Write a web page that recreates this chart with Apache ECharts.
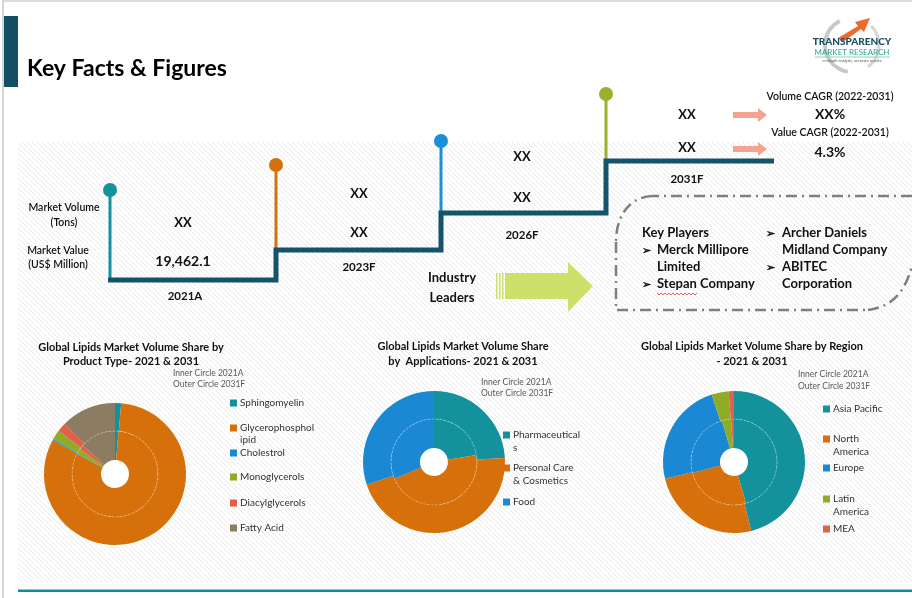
<!DOCTYPE html>
<html><head><meta charset="utf-8">
<script src="https://cdn.jsdelivr.net/npm/echarts@6/dist/echarts.min.js"></script>
<style>html,body{margin:0;padding:0;background:#fff}#c{width:912px;height:598px}</style>
</head><body><div id="c"></div>
<script>
// ---------- DATA ----------
const years = ['2021A', '2023F', '2026F', '2031F'];
const volumeTons = ['XX', 'XX', 'XX', 'XX'];
const valueUSD = ['19,462.1', 'XX', 'XX', 'XX'];
const cagrLabels = ['Volume CAGR (2022-2031)', 'Value CAGR (2022-2031)'];
const cagrValues = ['XX%', '4.3%'];
const playersLeft = ['Merck Millipore', 'Limited', 'Stepan Company'];
const playersRight = ['Archer Daniels', 'Midland Company', 'ABITEC', 'Corporation'];

const productNames = ['Sphingomyelin', 'Glycerophospholipid', 'Cholestrol', 'Monoglycerols', 'Diacylglycerols', 'Fatty Acid'];
const product2021 = [1.3, 81.4, 0.3, 1.8, 1.7, 13.5];
const product2031 = [1.4, 81.5, 0.3, 2.2, 2.0, 12.6];

const appNames = ['Pharmaceuticals', 'Personal Care & Cosmetics', 'Food'];
const app2021 = [22.4, 46.2, 31.4];
const app2031 = [24.1, 45.7, 30.2];

const regionNames = ['Asia Pacific', 'North America', 'Europe', 'Latin America', 'MEA'];
const region2021 = [45.5, 25.4, 24.6, 3.4, 1.1];
const region2031 = [46.1, 25.1, 23.7, 3.9, 1.2];

const pieTitles = [
  ['Global Lipids Market Volume Share by', 'Product Type- 2021 & 2031'],
  ['Global Lipids Market Volume Share', 'by  Applications- 2021 & 2031'],
  ['Global Lipids Market Volume Share by Region', '- 2021 & 2031']
];
const ringNotes = ['Inner Circle 2021A', 'Outer Circle 2031F'];

// ---------- STYLE ----------
const FONT = 'Lato, "Open Sans", sans-serif';
const palette = ['#13919c', '#d6700a', '#1b88d3', '#8fab27', '#e0604a', '#8c7d62'];
const stemColors = ['#13919c', '#d6700a', '#1b8fd6', '#9bb02d'];

// hatch pattern
const pc = document.createElement('canvas');
pc.width = 5; pc.height = 5;
const px = pc.getContext('2d');
px.fillStyle = '#ffffff'; px.fillRect(0, 0, 5, 5);
px.strokeStyle = '#e9e9e9'; px.lineWidth = 1;
px.beginPath(); px.moveTo(-1, -1); px.lineTo(6, 6); px.stroke();
const hatch = { image: pc, repeat: 'repeat' };

const chart = echarts.init(document.getElementById('c'), null, { renderer: 'canvas' });
const g = [];
function txt(t, x, y, size, opts) {
  opts = opts || {};
  g.push({
    type: 'text', z: 50,
    style: {
      text: t, x: x, y: y,
      font: (opts.weight || 'bold') + ' ' + size + 'px ' + FONT,
      fill: opts.color || '#111',
      align: opts.align || 'center', verticalAlign: 'middle'
    }
  });
}

// frame
g.push({ type: 'rect', z: 0, shape: { x: 18, y: 142, width: 894, height: 441 }, style: { fill: hatch } });
g.push({ type: 'line', z: 1, shape: { x1: 3, y1: 0, x2: 3, y2: 598 }, style: { stroke: '#c8c8c8', lineWidth: 1.5 } });
g.push({ type: 'line', z: 1, shape: { x1: 3, y1: 1, x2: 912, y2: 1 }, style: { stroke: '#d2d2d2', lineWidth: 1.5 } });
g.push({ type: 'rect', z: 1, shape: { x: 18, y: 589.5, width: 894, height: 2.5 }, style: { fill: '#0b8f99' } });
g.push({ type: 'rect', z: 1, shape: { x: 4, y: 16, width: 14, height: 71 }, style: { fill: '#134f63' } });
txt('Key Facts & Figures', 27, 69, 23, { align: 'left', color: '#000' });

// logo
g.push({ type: 'arc', z: 5, shape: { cx: 852, cy: 45, r: 27, startAngle: Math.PI * 0.55, endAngle: Math.PI * 1.35 }, style: { stroke: '#c9c9c9', lineWidth: 4, fill: null } });
g.push({ type: 'arc', z: 5, shape: { cx: 852, cy: 45, r: 27, startAngle: Math.PI * 1.75, endAngle: Math.PI * 0.3 }, style: { stroke: '#d6d6d6', lineWidth: 3, fill: null } });
g.push({ type: 'polygon', z: 6, shape: { points: [[838, 38], [858, 26], [855, 22], [870, 18], [864, 32], [861, 29], [843, 42]] }, style: { fill: '#ee6a2c' } });
txt('TRANSPARENCY', 852, 42, 10, { color: '#1a4d66', weight: '900' });
txt('MARKET RESEARCH', 852, 52, 8, { color: '#2f9f95', weight: 'normal' });
g.push({ type: 'line', z: 5, shape: { x1: 815, y1: 57, x2: 890, y2: 57 }, style: { stroke: '#8fd1b8', lineWidth: 1 } });
txt('in-depth analysis, accurate results', 852, 61, 4, { color: '#555', weight: 'normal' });

// staircase
g.push({ type: 'polyline', z: 20, shape: { points: [[108, 280], [276, 280], [276, 250], [441, 250], [441, 213], [606, 213], [606, 161], [774, 161]] }, style: { stroke: '#15536b', lineWidth: 5, fill: null, lineJoin: 'miter' } });
const stems = [[110, 190, 280], [276, 165, 250], [441, 141, 213], [606, 94, 161]];
stems.forEach(function (s, i) {
  g.push({ type: 'line', z: 19, shape: { x1: s[0], y1: s[1], x2: s[0], y2: s[2] }, style: { stroke: stemColors[i], lineWidth: 3 } });
  g.push({ type: 'circle', z: 21, shape: { cx: s[0], cy: s[1], r: 7 }, style: { fill: stemColors[i] } });
});
// stair texts
const colX = [183, 359, 522, 687];
const volY = [223, 194, 157, 115];
const valY = [261, 233, 198, 148];
const yrY = [296, 267, 235, 179];
years.forEach(function (y, i) {
  txt(volumeTons[i], colX[i], volY[i], 13);
  txt(valueUSD[i], colX[i], valY[i], i === 0 ? 14 : 13);
  txt(y, colX[i] + (i === 0 ? 2 : 0), yrY[i], 11.5);
});
txt('Market Volume', 64, 208, 10.5, { weight: '600' });
txt('(Tons)', 64, 223, 10.5, { weight: '600' });
txt('Market Value', 58, 251, 10.5, { weight: '600' });
txt('(US$ Million)', 58, 265, 10.5, { weight: '600' });

// CAGR
const cagrY = [[97, 114], [133, 152]];
const arrowY = [115, 149];
cagrLabels.forEach(function (l, i) {
  txt(l, 830, cagrY[i][0], 10.5, { weight: '600' });
  txt(cagrValues[i], 830, cagrY[i][1], 14);
  const ay = arrowY[i];
  g.push({ type: 'polygon', z: 30, shape: { points: [[733, ay - 3], [758, ay - 3], [758, ay - 7], [767, ay], [758, ay + 7], [758, ay + 3], [733, ay + 3]] }, style: { fill: '#f7a190' } });
});

// industry leaders
txt('Industry', 452, 278, 13);
txt('Leaders', 452, 298, 13);
[496, 499, 502].forEach(function (x) {
  g.push({ type: 'rect', z: 30, shape: { x: x, y: 273, width: 1.5, height: 26 }, style: { fill: '#cde06a' } });
});
g.push({ type: 'polygon', z: 30, shape: { points: [[505, 273], [568, 273], [568, 262], [593, 286], [568, 312], [568, 299], [505, 299]] }, style: { fill: '#cde06a' } });

// players box (dash-dot outline)
const boxStyle = { stroke: '#7f7f7f', lineWidth: 2.5, fill: null, lineDash: [11, 5, 2, 5] };
g.push({ type: 'polyline', z: 25, shape: { points: [[912, 196], [652, 196]] }, style: boxStyle });
g.push({ type: 'bezierCurve', z: 25, shape: { x1: 652, y1: 196, x2: 616, y2: 242, cpx1: 630, cpy1: 197, cpx2: 616, cpy2: 215 }, style: boxStyle });
g.push({ type: 'polyline', z: 25, shape: { points: [[616, 242], [616, 310], [868, 310]] }, style: boxStyle });
g.push({ type: 'bezierCurve', z: 25, shape: { x1: 868, y1: 310, x2: 912, y2: 266, cpx1: 895, cpy1: 306, cpx2: 905, cpy2: 290 }, style: boxStyle });
const PF = 13;
txt('Key Players', 642, 233, PF, { align: 'left' });
txt('\u27A2', 642, 250, 11, { align: 'left' });
txt(playersLeft[0], 657, 250, PF, { align: 'left' });
txt(playersLeft[1], 657, 267, PF, { align: 'left' });
txt('\u27A2', 642, 284, 11, { align: 'left' });
txt(playersLeft[2], 657, 284, PF, { align: 'left' });
txt('\u27A2', 766, 233, 11, { align: 'left' });
txt(playersRight[0], 782, 233, PF, { align: 'left' });
txt(playersRight[1], 782, 250, PF, { align: 'left' });
txt('\u27A2', 766, 267, 11, { align: 'left' });
txt(playersRight[2], 782, 267, PF, { align: 'left' });
txt(playersRight[3], 782, 284, PF, { align: 'left' });
// spell-check squiggle under "Stepan"
const sq = [];
for (let x = 657; x <= 697; x += 2) sq.push([x, (x - 657) % 4 === 0 ? 293 : 295]);
g.push({ type: 'polyline', z: 51, shape: { points: sq }, style: { stroke: '#e53935', lineWidth: 0.8, fill: null } });

// pie section
const pies = [
  { names: productNames, inner: product2021, outer: product2031, c: [115, 474], tx: 131, ty: [347, 361], nx: 173, ny: [373, 384] },
  { names: appNames, inner: app2021, outer: app2031, c: [434, 462], tx: 463, ty: [346, 361], nx: 481, ny: [382, 393] },
  { names: regionNames, inner: region2021, outer: region2031, c: [734, 462], tx: 752, ty: [346, 361], nx: 798, ny: [374, 386] }
];
const series = [];
pies.forEach(function (p, k) {
  txt(pieTitles[k][0], p.tx, p.ty[0], 11);
  txt(pieTitles[k][1], p.tx, p.ty[1], 11);
  txt(ringNotes[0], p.nx, p.ny[0], 8.5, { align: 'left', weight: 'normal', color: '#595959' });
  txt(ringNotes[1], p.nx, p.ny[1], 8.5, { align: 'left', weight: 'normal', color: '#595959' });
  g.push({ type: 'circle', z: 1, shape: { cx: p.c[0], cy: p.c[1], r: 15 }, style: { fill: '#fff' } });
  g.push({ type: 'circle', z: 60, shape: { cx: p.c[0], cy: p.c[1], r: 43 }, style: { fill: null, stroke: 'rgba(255,255,255,0.45)', lineWidth: 0.8, lineDash: [2, 2] } });
  [['inner', [14, 43]], ['outer', [43, 71]]].forEach(function (r) {
    series.push({
      type: 'pie', center: p.c, radius: r[1], startAngle: 90, clockwise: true,
      silent: true, animation: false, label: { show: false }, labelLine: { show: false },
      itemStyle: { borderWidth: 0 },
      data: p.names.map(function (n, i) { return { name: n, value: p[r[0]][i], itemStyle: { color: palette[i] } }; })
    });
  });
});

// legends (one per entry to keep the original spacing)
const legendSpec = [
  { x: 230, items: [['Sphingomyelin', 'Sphingomyelin', 403], ['Glycerophospholipid', 'Glycerophosphol', 428], ['Cholestrol', 'Cholestrol', 453], ['Monoglycerols', 'Monoglycerols', 477], ['Diacylglycerols', 'Diacylglycerols', 503], ['Fatty Acid', 'Fatty Acid', 528]], cont: [['ipid', 440]] },
  { x: 503, items: [['Pharmaceuticals', 'Pharmaceutical', 435], ['Personal Care & Cosmetics', 'Personal Care', 468], ['Food', 'Food', 502]], cont: [['s', 448], ['& Cosmetics', 481]] },
  { x: 823, items: [['Asia Pacific', 'Asia Pacific', 409], ['North America', 'North', 439], ['Europe', 'Europe', 468], ['Latin America', 'Latin', 499], ['MEA', 'MEA', 529]], cont: [['America', 452], ['America', 512]] }
];
const legends = [];
legendSpec.forEach(function (L) {
  L.items.forEach(function (it) {
    legends.push({
      left: L.x, top: it[2] - 6, padding: 0, selectedMode: false,
      icon: 'rect', itemWidth: 7, itemHeight: 7, itemGap: 0,
      data: [it[0]],
      formatter: function () { return it[1]; },
      textStyle: { fontFamily: FONT, fontSize: 10, color: '#333', lineHeight: 12, padding: [0, 0, 0, -2] }
    });
  });
  L.cont.forEach(function (c) {
    txt(c[0], L.x + 10, c[1], 10, { align: 'left', weight: 'normal', color: '#333' });
  });
});

chart.setOption({
  animation: false,
  color: palette,
  legend: legends,
  series: series,
  graphic: { elements: g }
});
</script></body></html>
